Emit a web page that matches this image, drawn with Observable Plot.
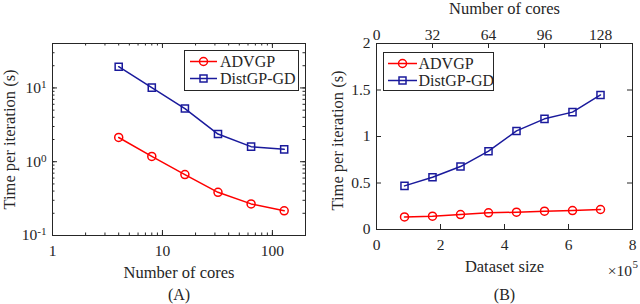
<!DOCTYPE html>
<html>
<head>
<meta charset="utf-8">
<script src="https://cdn.jsdelivr.net/npm/d3@7"></script>
<script src="https://cdn.jsdelivr.net/npm/@observablehq/plot@0.6"></script>
<style>
  html, body { margin: 0; padding: 0; background: #fff; }
  #wrap { position: relative; width: 640px; height: 304px; overflow: hidden; font-family: "Liberation Serif", serif; }
  #wrap > .panel { position: absolute; top: 0; }
  #wrap svg { overflow: visible; }
  #legend { position: absolute; left: 0; top: 0; pointer-events: none; }
</style>
</head>
<body>
<div id="wrap"></div>
<script>
// ---------- data ----------
const seriesNames = ["ADVGP", "DistGP-GD"];
const seriesColors = ["#ff0000", "#1a1a9c"];

// Panel (A): log-log, time vs number of cores
const coresA = [4, 8, 16, 32, 64, 128];
const advgpA = [2.13, 1.18, 0.67, 0.385, 0.268, 0.216];
const distA = [19.4, 10.1, 5.25, 2.37, 1.6, 1.47];
const xTicksA = [1, 10, 100];
const yTicksA = [0.1, 1, 10];

// Panel (B): time vs dataset size (x 10^5), top axis number of cores
const sizeB = [0.875, 1.75, 2.625, 3.5, 4.375, 5.25, 6.125, 7.0];
const advgpB = [0.135, 0.143, 0.161, 0.179, 0.186, 0.197, 0.204, 0.215];
const distB = [0.469, 0.562, 0.677, 0.842, 1.06, 1.19, 1.262, 1.447];
const xTicksB = [0, 2, 4, 6, 8];
const yTicksB = [0, 0.5, 1, 1.5, 2];
const coreTicksB = [0, 32, 64, 96, 128];
const maxCoresB = 128, maxSizeB = 7.0;

// ---------- helpers ----------
const INK = "#262626";
const FONT = "Liberation Serif";
const TICK_FS = 15.5, LABEL_FS = 16.5;
const tableA = coresA.flatMap((c, i) => [
  {x: c, y: advgpA[i], s: seriesNames[0]},
  {x: c, y: distA[i], s: seriesNames[1]}
]);
const tableB = sizeB.flatMap((v, i) => [
  {x: v, y: advgpB[i], s: seriesNames[0]},
  {x: v, y: distB[i], s: seriesNames[1]}
]);

function seriesMarks(table) {
  const marks = [];
  seriesNames.forEach((name, k) => {
    const d = table.filter(r => r.s === name);
    marks.push(Plot.line(d, {x: "x", y: "y", stroke: seriesColors[k], strokeWidth: 1.5}));
    marks.push(Plot.dot(d, {x: "x", y: "y", stroke: seriesColors[k], strokeWidth: 1.5,
      fill: "none", r: 4, symbol: k === 0 ? "circle" : "square"}));
  });
  return marks;
}

function inwardTicks(xVals, yVals, pw, ph, len) {
  return [
    Plot.tickX(xVals, {x: d => d, insetTop: ph - len, stroke: INK}),
    Plot.tickX(xVals, {x: d => d, insetBottom: ph - len, stroke: INK}),
    Plot.tickY(yVals, {y: d => d, insetRight: pw - len, stroke: INK}),
    Plot.tickY(yVals, {y: d => d, insetLeft: pw - len, stroke: INK})
  ];
}

function superscriptTicks(svg, ariaLabel) {
  svg.querySelectorAll(`g[aria-label="${ariaLabel}"] text`).forEach(t => {
    const s = t.textContent;
    if (!s.includes("^")) return;
    const [base, exp] = s.split("^");
    t.textContent = base;
    const ts = document.createElementNS("http://www.w3.org/2000/svg", "tspan");
    ts.setAttribute("dy", "-0.45em");
    ts.setAttribute("font-size", "0.72em");
    ts.textContent = exp;
    t.appendChild(ts);
  });
}

const baseStyle = {fontFamily: FONT, fontSize: TICK_FS + "px", color: INK, background: "white", overflow: "visible"};

// ---------- Panel A ----------
{
  const W = 320, H = 304, mL = 52, mR = 15, mT = 43, mB = 69;
  const pw = W - mL - mR, ph = H - mT - mB;
  const xDom = [1, 200], yDom = [0.1, 40];
  const xMinor = d3.scaleLog().domain(xDom).ticks();
  const yMinor = d3.scaleLog().domain(yDom).ticks();
  const svg = Plot.plot({
    width: W, height: H, marginLeft: mL, marginRight: mR, marginTop: mT, marginBottom: mB,
    style: baseStyle,
    x: {type: "log", domain: xDom},
    y: {type: "log", domain: yDom},
    marks: [
      ...inwardTicks(xMinor, yMinor, pw, ph, 2.5),
      ...inwardTicks(xTicksA, yTicksA, pw, ph, 5),
      Plot.frame({stroke: INK, strokeWidth: 1}),
      Plot.axisX(xTicksA, {anchor: "bottom", tickSize: 0, tickPadding: 9, label: null,
        tickFormat: d => String(d), fontSize: TICK_FS, fill: INK}),
      Plot.axisY(yTicksA, {anchor: "left", tickSize: 0, tickPadding: 6, label: null,
        tickFormat: d => "10^" + Math.round(Math.log10(d)), fontSize: TICK_FS, fill: INK}),
      ...seriesMarks(tableA),
      Plot.text(["Time per iteration (s)"], {text: d => d, frameAnchor: "left", dx: -43, rotate: -90,
        fontSize: LABEL_FS, fill: INK, lineAnchor: "middle", textAnchor: "middle"}),
      Plot.text(["Number of cores"], {text: d => d, frameAnchor: "bottom", dy: 37,
        fontSize: LABEL_FS, fill: INK, lineAnchor: "middle", textAnchor: "middle"}),
      Plot.text(["(A)"], {text: d => d, frameAnchor: "bottom", dy: 59.5,
        fontSize: 16, fill: INK, lineAnchor: "middle", textAnchor: "middle"})
    ]
  });
  superscriptTicks(svg, "y-axis tick label");
  const div = document.createElement("div");
  div.className = "panel"; div.style.left = "0px";
  div.appendChild(svg);
  document.getElementById("wrap").appendChild(div);
}

// ---------- Panel B ----------
{
  const W = 320, H = 304, mL = 56, mR = 8, mT = 43, mB = 75;
  const pw = W - mL - mR, ph = H - mT - mB;
  const xDom = [0, 8], yDom = [0, 2];
  const coreToSize = c => c * maxSizeB / maxCoresB;
  const topTickPos = coreTicksB.map(coreToSize);
  const svg = Plot.plot({
    width: W, height: H, marginLeft: mL, marginRight: mR, marginTop: mT, marginBottom: mB,
    style: baseStyle,
    x: {domain: xDom},
    y: {domain: yDom},
    marks: [
      Plot.tickX(xTicksB, {x: d => d, insetTop: ph - 5, stroke: INK}),
      Plot.tickX(topTickPos, {x: d => d, insetBottom: ph - 5, stroke: INK}),
      Plot.tickY(yTicksB, {y: d => d, insetRight: pw - 5, stroke: INK}),
      Plot.tickY(yTicksB, {y: d => d, insetLeft: pw - 5, stroke: INK}),
      Plot.frame({stroke: INK, strokeWidth: 1}),
      Plot.axisX(xTicksB, {anchor: "bottom", tickSize: 0, tickPadding: 9, label: null,
        tickFormat: d => String(d), fontSize: TICK_FS, fill: INK}),
      Plot.axisX(topTickPos, {anchor: "top", tickSize: 0, tickPadding: 4, label: null,
        tickFormat: d => String(Math.round(d * maxCoresB / maxSizeB)), fontSize: TICK_FS, fill: INK}),
      Plot.axisY(yTicksB, {anchor: "left", tickSize: 0, tickPadding: 6, label: null,
        tickFormat: d => String(d), fontSize: TICK_FS, fill: INK}),
      ...seriesMarks(tableB),
      Plot.text(["Time per iteration (s)"], {text: d => d, frameAnchor: "left", dx: -38.5, dy: 4, rotate: -90,
        fontSize: LABEL_FS, fill: INK, lineAnchor: "middle", textAnchor: "middle"}),
      Plot.text(["Number of cores"], {text: d => d, frameAnchor: "top", dy: -35,
        fontSize: LABEL_FS, fill: INK, lineAnchor: "middle", textAnchor: "middle"}),
      Plot.text(["Dataset size"], {text: d => d, frameAnchor: "bottom", dy: 37,
        fontSize: LABEL_FS, fill: INK, lineAnchor: "middle", textAnchor: "middle"}),
      Plot.text(["×10"], {text: d => d, frameAnchor: "bottom-right", dx: -0.5, dy: 42,
        fontSize: TICK_FS, fill: INK, lineAnchor: "middle", textAnchor: "end"}),
      Plot.text(["5"], {text: d => d, frameAnchor: "bottom-right", dx: 0, dy: 35,
        fontSize: 11, fill: INK, lineAnchor: "middle", textAnchor: "start"}),
      Plot.text(["(B)"], {text: d => d, frameAnchor: "bottom", dy: 65.5,
        fontSize: 16, fill: INK, lineAnchor: "middle", textAnchor: "middle"})
    ]
  });
  const div = document.createElement("div");
  div.className = "panel"; div.style.left = "320px";
  div.appendChild(svg);
  document.getElementById("wrap").appendChild(div);
}

// ---------- Legends (overlay) ----------
{
  const NS = "http://www.w3.org/2000/svg";
  const svg = document.createElementNS(NS, "svg");
  svg.setAttribute("id", "legend");
  svg.setAttribute("width", 640); svg.setAttribute("height", 304);
  const el = (tag, attrs, parent) => {
    const e = document.createElementNS(NS, tag);
    for (const k in attrs) e.setAttribute(k, attrs[k]);
    (parent || svg).appendChild(e);
    return e;
  };
  const boxes = [
    {x: 184, y: 50, w: 114, h: 40, rows: [61.5, 78.5], l0: 190, l1: 217, m: 203.5, tx: 220},
    {x: 383, y: 52, w: 110, h: 38, rows: [63.5, 80.5], l0: 388, l1: 417, m: 402.5, tx: 418.5}
  ];
  boxes.forEach(b => {
    el("rect", {x: b.x + 0.5, y: b.y + 0.5, width: b.w, height: b.h, fill: "white", stroke: INK, "stroke-width": 1});
    seriesNames.forEach((name, k) => {
      const y = b.rows[k];
      el("line", {x1: b.l0, x2: b.l1, y1: y, y2: y, stroke: seriesColors[k], "stroke-width": 1.5});
      if (k === 0) el("circle", {cx: b.m, cy: y, r: 4, fill: "none", stroke: seriesColors[k], "stroke-width": 1.5});
      else el("rect", {x: b.m - 3.5, y: y - 3.5, width: 7, height: 7, fill: "none", stroke: seriesColors[k], "stroke-width": 1.5});
      const t = el("text", {x: b.tx, y: y, "dominant-baseline": "central", "font-family": FONT, "font-size": 16, fill: INK});
      t.textContent = name;
    });
  });
  document.getElementById("wrap").appendChild(svg);
}
</script>
</body>
</html>
